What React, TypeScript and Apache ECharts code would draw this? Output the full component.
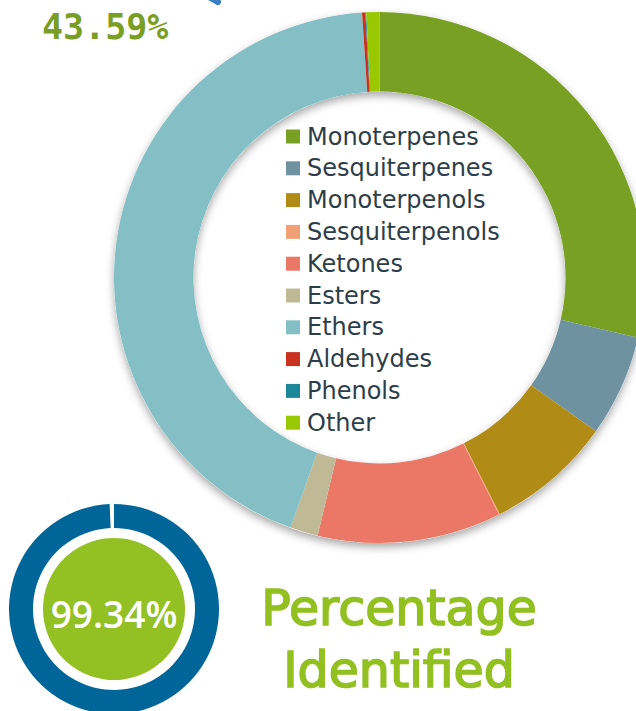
import React, { useEffect, useRef } from "react";
import * as echarts from "echarts";

const categories = [
  "Monoterpenes",
  "Sesquiterpenes",
  "Monoterpenols",
  "Sesquiterpenols",
  "Ketones",
  "Esters",
  "Ethers",
  "Aldehydes",
  "Phenols",
  "Other",
];
const values = [28.7, 6.2, 7.7, 0.05, 11.2, 1.7, 43.59, 0.2, 0.05, 0.8];
const colors = [
  "#78a022",
  "#6e92a0",
  "#b08c16",
  "#f2a075",
  "#eb7866",
  "#c0b996",
  "#84bfc6",
  "#c8321e",
  "#1a8898",
  "#99c800",
];
const highlightName = "Ethers";
const identifiedPct = 99.34;
const titleLines = ["Percentage", "Identified"];

export default function App() {
  const ref = useRef<HTMLDivElement>(null);
  useEffect(() => {
    if (!ref.current) return;
    const chart = echarts.init(ref.current, null, { renderer: "svg" });
    const highlightValue = values[categories.indexOf(highlightName)];
    const option: any = {
      animation: false,
      legend: {
        data: categories,
        orient: "vertical",
        left: 286,
        top: 124.5,
        padding: 0,
        itemWidth: 14,
        itemHeight: 14,
        itemGap: 7.8,
        icon: "rect",
        selectedMode: false,
        textStyle: {
          fontFamily: "DejaVu Sans",
          fontSize: 24,
          lineHeight: 24,
          color: "#2e3e48",
          padding: [0, 0, 0, 2],
        },
      },
      graphic: [
        {
          type: "ring",
          z: 0,
          silent: true,
          shape: { cx: 379.5, cy: 277.5, r: 265.5, r0: 186 },
          style: {
            fill: "#ffffff",
            shadowBlur: 9,
            shadowColor: "rgba(0,0,0,0.35)",
            shadowOffsetY: 4,
          },
        },
        {
          type: "line",
          silent: true,
          shape: { x1: 207, y1: -4, x2: 218, y2: 2 },
          style: { stroke: "#3b7ec6", lineWidth: 6, lineCap: "round" },
        },
        {
          type: "text",
          silent: true,
          x: 42,
          y: 27,
          style: {
            text: highlightValue.toFixed(2) + "%",
            fill: "#7a9e24",
            font: "bold 35px 'DejaVu Sans Mono'",
            align: "left",
            verticalAlign: "middle",
          },
        },
        {
          type: "circle",
          silent: true,
          z: 5,
          shape: { cx: 114, cy: 609, r: 71 },
          style: { fill: "#93c123" },
        },
        {
          type: "text",
          silent: true,
          z: 6,
          x: 114,
          y: 613,
          style: {
            text: identifiedPct.toFixed(2) + "%",
            fill: "#ffffff",
            font: "600 37px 'Open Sans'",
            align: "center",
            verticalAlign: "middle",
          },
        },
        {
          type: "text",
          silent: true,
          x: 399,
          y: 608,
          style: {
            text: titleLines[0],
            fill: "#92c020",
            stroke: "#92c020",
            lineWidth: 1.6,
            font: "49px 'DejaVu Sans'",
            align: "center",
            verticalAlign: "middle",
          },
        },
        {
          type: "text",
          silent: true,
          x: 399,
          y: 670,
          style: {
            text: titleLines[1],
            fill: "#92c020",
            stroke: "#92c020",
            lineWidth: 1.6,
            font: "49px 'DejaVu Sans'",
            align: "center",
            verticalAlign: "middle",
          },
        },
      ],
      series: [
        {
          type: "pie",
          name: "Composition",
          z: 2,
          center: [379.5, 277.5],
          radius: [186, 265.5],
          startAngle: 90,
          clockwise: true,
          avoidLabelOverlap: false,
          label: { show: false },
          labelLine: { show: false },
          emphasis: { disabled: true },
          silent: true,
          itemStyle: { borderWidth: 0 },
          data: categories.map((c, i) => ({
            name: c,
            value: values[i],
            itemStyle: { color: colors[i] },
          })),
        },
        {
          type: "pie",
          name: "Identified",
          z: 2,
          center: [114, 609],
          radius: [81, 105],
          startAngle: 90,
          clockwise: true,
          label: { show: false },
          labelLine: { show: false },
          emphasis: { disabled: true },
          silent: true,
          data: [
            { name: "Identified", value: identifiedPct, itemStyle: { color: "#006699" } },
            {
              name: "Unidentified",
              value: +(100 - identifiedPct).toFixed(2),
              itemStyle: { color: "rgba(0,0,0,0)" },
            },
          ],
        },
      ],
    };
    chart.setOption(option);
    return () => chart.dispose();
  }, []);
  return (
    <div
      ref={ref}
      style={{ position: "absolute", left: 0, top: 0, width: 636, height: 711 }}
    />
  );
}
